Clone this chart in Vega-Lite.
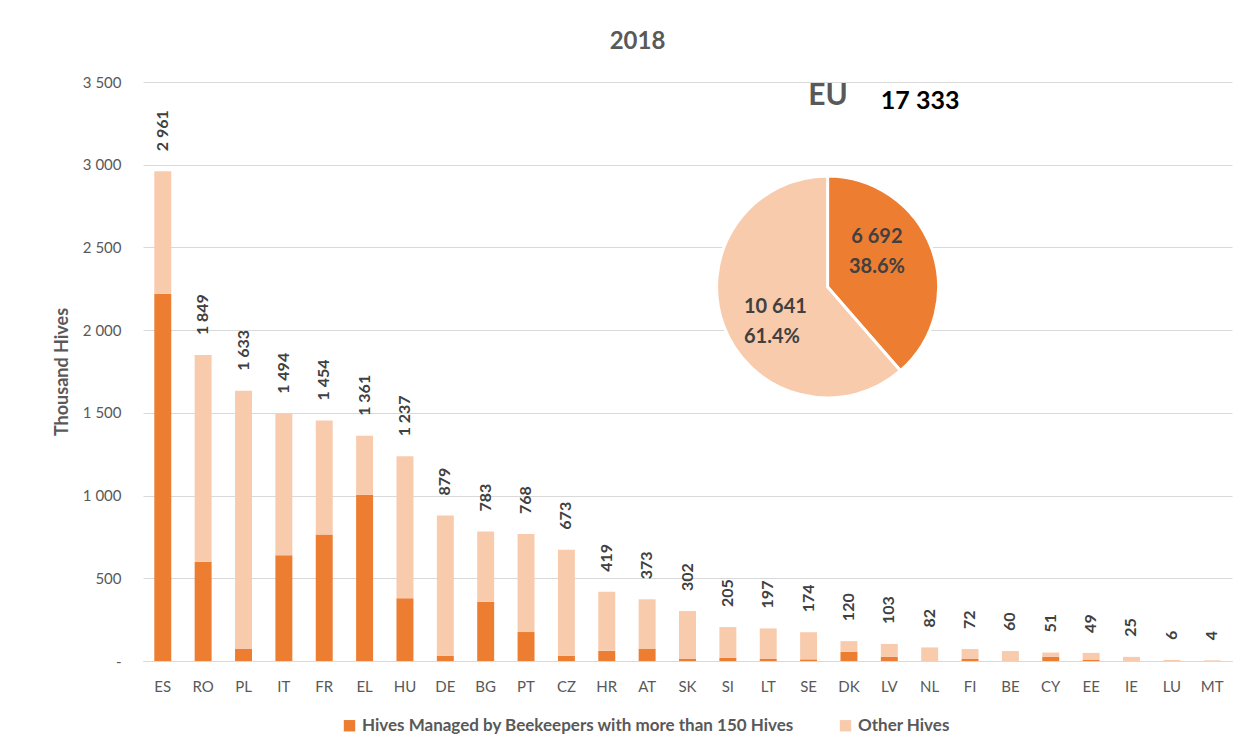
{
  "$schema": "https://vega.github.io/schema/vega-lite/v6.json",
  "autosize": {"type": "none"},
  "width": 1089,
  "height": 579,
  "padding": {"left": 143, "top": 82, "right": 6, "bottom": 91},
  "background": "white",
  "title": {"text": "2018", "fontSize": 24, "fontWeight": "bold", "color": "#595959", "font": "Lato", "offset": 21, "dx": -50},
  "datasets": {
    "bars": [
      {"country": "ES", "type": "Hives Managed by Beekeepers with more than 150 Hives", "value": 2220},
      {"country": "ES", "type": "Other Hives", "value": 741},
      {"country": "RO", "type": "Hives Managed by Beekeepers with more than 150 Hives", "value": 600},
      {"country": "RO", "type": "Other Hives", "value": 1249},
      {"country": "PL", "type": "Hives Managed by Beekeepers with more than 150 Hives", "value": 75},
      {"country": "PL", "type": "Other Hives", "value": 1558},
      {"country": "IT", "type": "Hives Managed by Beekeepers with more than 150 Hives", "value": 640},
      {"country": "IT", "type": "Other Hives", "value": 854},
      {"country": "FR", "type": "Hives Managed by Beekeepers with more than 150 Hives", "value": 765},
      {"country": "FR", "type": "Other Hives", "value": 689},
      {"country": "EL", "type": "Hives Managed by Beekeepers with more than 150 Hives", "value": 1005},
      {"country": "EL", "type": "Other Hives", "value": 356},
      {"country": "HU", "type": "Hives Managed by Beekeepers with more than 150 Hives", "value": 380},
      {"country": "HU", "type": "Other Hives", "value": 857},
      {"country": "DE", "type": "Hives Managed by Beekeepers with more than 150 Hives", "value": 32},
      {"country": "DE", "type": "Other Hives", "value": 847},
      {"country": "BG", "type": "Hives Managed by Beekeepers with more than 150 Hives", "value": 358},
      {"country": "BG", "type": "Other Hives", "value": 425},
      {"country": "PT", "type": "Hives Managed by Beekeepers with more than 150 Hives", "value": 175},
      {"country": "PT", "type": "Other Hives", "value": 593},
      {"country": "CZ", "type": "Hives Managed by Beekeepers with more than 150 Hives", "value": 32},
      {"country": "CZ", "type": "Other Hives", "value": 641},
      {"country": "HR", "type": "Hives Managed by Beekeepers with more than 150 Hives", "value": 62},
      {"country": "HR", "type": "Other Hives", "value": 357},
      {"country": "AT", "type": "Hives Managed by Beekeepers with more than 150 Hives", "value": 75},
      {"country": "AT", "type": "Other Hives", "value": 298},
      {"country": "SK", "type": "Hives Managed by Beekeepers with more than 150 Hives", "value": 12},
      {"country": "SK", "type": "Other Hives", "value": 290},
      {"country": "SI", "type": "Hives Managed by Beekeepers with more than 150 Hives", "value": 20},
      {"country": "SI", "type": "Other Hives", "value": 185},
      {"country": "LT", "type": "Hives Managed by Beekeepers with more than 150 Hives", "value": 12},
      {"country": "LT", "type": "Other Hives", "value": 185},
      {"country": "SE", "type": "Hives Managed by Beekeepers with more than 150 Hives", "value": 10},
      {"country": "SE", "type": "Other Hives", "value": 164},
      {"country": "DK", "type": "Hives Managed by Beekeepers with more than 150 Hives", "value": 56},
      {"country": "DK", "type": "Other Hives", "value": 64},
      {"country": "LV", "type": "Hives Managed by Beekeepers with more than 150 Hives", "value": 26},
      {"country": "LV", "type": "Other Hives", "value": 77},
      {"country": "NL", "type": "Hives Managed by Beekeepers with more than 150 Hives", "value": 0},
      {"country": "NL", "type": "Other Hives", "value": 82},
      {"country": "FI", "type": "Hives Managed by Beekeepers with more than 150 Hives", "value": 12},
      {"country": "FI", "type": "Other Hives", "value": 60},
      {"country": "BE", "type": "Hives Managed by Beekeepers with more than 150 Hives", "value": 0},
      {"country": "BE", "type": "Other Hives", "value": 60},
      {"country": "CY", "type": "Hives Managed by Beekeepers with more than 150 Hives", "value": 26},
      {"country": "CY", "type": "Other Hives", "value": 25},
      {"country": "EE", "type": "Hives Managed by Beekeepers with more than 150 Hives", "value": 6},
      {"country": "EE", "type": "Other Hives", "value": 43},
      {"country": "IE", "type": "Hives Managed by Beekeepers with more than 150 Hives", "value": 0},
      {"country": "IE", "type": "Other Hives", "value": 25},
      {"country": "LU", "type": "Hives Managed by Beekeepers with more than 150 Hives", "value": 0},
      {"country": "LU", "type": "Other Hives", "value": 6},
      {"country": "MT", "type": "Hives Managed by Beekeepers with more than 150 Hives", "value": 0},
      {"country": "MT", "type": "Other Hives", "value": 4}
    ],
    "totals": [
      {"country": "ES", "total": 2961}, {"country": "RO", "total": 1849}, {"country": "PL", "total": 1633},
      {"country": "IT", "total": 1494}, {"country": "FR", "total": 1454}, {"country": "EL", "total": 1361},
      {"country": "HU", "total": 1237}, {"country": "DE", "total": 879}, {"country": "BG", "total": 783},
      {"country": "PT", "total": 768}, {"country": "CZ", "total": 673}, {"country": "HR", "total": 419},
      {"country": "AT", "total": 373}, {"country": "SK", "total": 302}, {"country": "SI", "total": 205},
      {"country": "LT", "total": 197}, {"country": "SE", "total": 174}, {"country": "DK", "total": 120},
      {"country": "LV", "total": 103}, {"country": "NL", "total": 82}, {"country": "FI", "total": 72},
      {"country": "BE", "total": 60}, {"country": "CY", "total": 51}, {"country": "EE", "total": 49},
      {"country": "IE", "total": 25}, {"country": "LU", "total": 6}, {"country": "MT", "total": 4}
    ],
    "pie": [
      {"type": "Hives Managed by Beekeepers with more than 150 Hives", "value": 6692, "share": 38.6},
      {"type": "Other Hives", "value": 10641, "share": 61.4}
    ],
    "eu": [
      {"name": "EU", "total": 17333}
    ]
  },
  "encoding": {
    "x": {
      "field": "country", "type": "nominal",
      "scale": {"domain": ["ES","RO","PL","IT","FR","EL","HU","DE","BG","PT","CZ","HR","AT","SK","SI","LT","SE","DK","LV","NL","FI","BE","CY","EE","IE","LU","MT"], "paddingInner": 0.58, "paddingOuter": 0.28},
      "axis": {"title": null, "labelAngle": 0, "labelFontSize": 15, "labelColor": "#595959", "labelFont": "Lato", "labelPadding": 18, "ticks": false, "domainColor": "#d9d9d9", "grid": false}
    }
  },
  "layer": [
    {
      "data": {"name": "bars"},
      "mark": {"type": "bar"},
      "encoding": {
        "y": {
          "field": "value", "type": "quantitative", "stack": "zero",
          "scale": {"domain": [0, 3500], "nice": false},
          "axis": {"title": "Thousand Hives", "titleFontSize": 18, "titleFontWeight": "bold", "titleColor": "#595959", "titleFont": "Lato", "titlePadding": 11,
                   "values": [0, 500, 1000, 1500, 2000, 2500, 3000, 3500], "format": ",d",
                   "labelExpr": "datum.value == 0 ? '-' : datum.label",
                   "labelFontSize": 15, "labelColor": "#595959", "labelFont": "Lato", "labelPadding": 22,
                   "ticks": false, "domain": false, "gridColor": "#d9d9d9", "gridWidth": 1}
        },
        "color": {
          "field": "type", "type": "nominal",
          "scale": {"domain": ["Hives Managed by Beekeepers with more than 150 Hives", "Other Hives"], "range": ["#ED7D31", "#F8CBAD"]},
          "legend": {"title": null, "orient": "none", "legendX": 198, "legendY": 635, "direction": "horizontal",
                     "symbolType": "square", "symbolSize": 130, "symbolStrokeWidth": 0, "labelFontSize": 17, "labelFontWeight": "bold",
                     "labelColor": "#595959", "labelFont": "Lato", "columnPadding": 42, "labelOffset": 4, "labelLimit": 0}
        },
        "order": {"field": "type", "type": "nominal", "sort": "ascending"}
      }
    },
    {
      "data": {"name": "totals"},
      "mark": {"type": "text", "angle": 270, "align": "left", "baseline": "middle", "dx": 20, "fontSize": 16, "fontWeight": "bold", "color": "#404040", "font": "Lato"},
      "encoding": {
        "y": {"field": "total", "type": "quantitative"},
        "text": {"field": "total", "type": "quantitative", "format": ","}
      }
    },
    {
      "data": {"name": "pie"},
      "mark": {"type": "arc", "radius": 111, "stroke": "white", "strokeWidth": 3},
      "encoding": {
        "x": {"datum": "SE", "bandPosition": 1.62},
        "y": {"datum": 2261, "type": "quantitative"},
        "theta": {"field": "value", "type": "quantitative", "stack": true},
        "color": {"field": "type", "type": "nominal"},
        "order": {"field": "share", "type": "quantitative"}
      }
    },
    {
      "data": {"name": "pie"},
      "transform": [
        {"filter": "datum.share < 50"},
        {"calculate": "[format(datum.value, ','), format(datum.share, '.1f') + '%']", "as": "lbl"}
      ],
      "mark": {"type": "text", "fontSize": 20, "fontWeight": "bold", "color": "#404040", "font": "Lato", "lineHeight": 30, "baseline": "middle", "align": "center"},
      "encoding": {
        "x": {"datum": "DK", "bandPosition": 2.15},
        "y": {"datum": 2563, "type": "quantitative"},
        "text": {"field": "lbl"}
      }
    },
    {
      "data": {"name": "pie"},
      "transform": [
        {"filter": "datum.share > 50"},
        {"calculate": "[format(datum.value, ','), format(datum.share, '.1f') + '%']", "as": "lbl"}
      ],
      "mark": {"type": "text", "fontSize": 20, "fontWeight": "bold", "color": "#404040", "font": "Lato", "lineHeight": 30, "baseline": "middle", "align": "left"},
      "encoding": {
        "x": {"datum": "LT", "bandPosition": -0.93},
        "y": {"datum": 2140, "type": "quantitative"},
        "text": {"field": "lbl"}
      }
    },
    {
      "data": {"name": "eu"},
      "mark": {"type": "text", "fontSize": 30, "fontWeight": "bold", "color": "#595959", "font": "Lato", "baseline": "middle"},
      "encoding": {
        "x": {"datum": "SE", "bandPosition": 1.65},
        "y": {"datum": 3415, "type": "quantitative"},
        "text": {"field": "name"}
      }
    },
    {
      "data": {"name": "eu"},
      "mark": {"type": "text", "fontSize": 25, "fontWeight": "bold", "color": "#000000", "font": "Lato", "baseline": "middle", "align": "left"},
      "encoding": {
        "x": {"datum": "LV", "bandPosition": 0},
        "y": {"datum": 3385, "type": "quantitative"},
        "text": {"field": "total", "type": "quantitative", "format": ","}
      }
    }
  ],
  "config": {
    "locale": {"number": {"decimal": ".", "thousands": " ", "grouping": [3], "currency": ["", ""]}},
    "view": {"stroke": null},
    "font": "Lato"
  }
}
